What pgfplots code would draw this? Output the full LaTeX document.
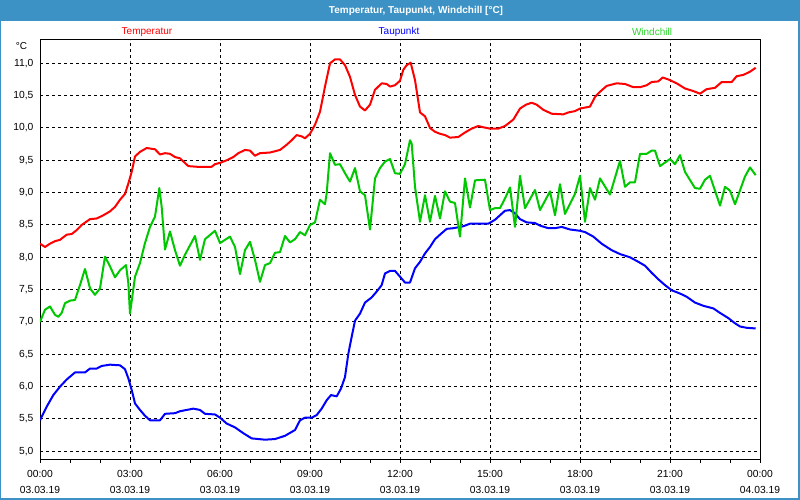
\documentclass[border=0pt]{standalone}
\usepackage{fontspec}
\setmainfont{Liberation Sans}
\usepackage{pgfplots}
\pgfplotsset{compat=1.18}
\definecolor{barblue}{RGB}{60,146,196}
\definecolor{tred}{RGB}{255,0,0}
\definecolor{tblue}{RGB}{0,0,255}
\definecolor{tgreen}{RGB}{0,200,0}
\definecolor{lgreen}{RGB}{40,215,40}
\begin{document}
\begin{tikzpicture}
\fill[barblue] (0pt,0pt) rectangle (800pt,500pt);
\fill[white] (1pt,2pt) rectangle (798pt,479pt);
\node[font=\bfseries\fontsize{10}{12}\selectfont, text=white] at (416pt,489.5pt) {Temperatur, Taupunkt, Windchill [°C]};
\node[font=\fontsize{10}{12}\selectfont, text=tred] at (147pt,468pt) {Temperatur};
\node[font=\fontsize{10}{12}\selectfont, text=tblue] at (399pt,468pt) {Taupunkt};
\node[font=\fontsize{10}{12}\selectfont, text=lgreen] at (652pt,468pt) {Windchill};
\node[font=\fontsize{10}{12}\selectfont] at (21.5pt,454pt) {°C};
\begin{axis}[at={(40pt,40pt)}, anchor=south west, scale only axis,
  width=720pt, height=420pt,
  xmin=0, xmax=24, ymin=4.866, ymax=11.36,
  axis line style={black, line width=1pt},
  grid=major,
  major grid style={black, line width=1pt, dash pattern=on 3pt off 3pt},
  xtick={0,3,6,9,12,15,18,21,24},
  minor xtick={1,2,4,5,7,8,10,11,13,14,16,17,19,20,22,23},
  xticklabels={{00:00\\03.03.19},{03:00\\03.03.19},{06:00\\03.03.19},{09:00\\03.03.19},{12:00\\03.03.19},{15:00\\03.03.19},{18:00\\03.03.19},{21:00\\03.03.19},{00:00\\04.03.19}},
  xticklabel style={align=center, font=\fontsize{10.3}{16}\selectfont, yshift=-4pt},
  ytick={5,5.5,6,6.5,7,7.5,8,8.5,9,9.5,10,10.5,11},
  yticklabel style={font=\fontsize{10.3}{12}\selectfont, /pgf/number format/.cd, use comma, fixed, fixed zerofill, precision=1},
  /pgf/number format/assume math mode=true,
  tick align=outside, tick pos=left,
  major tick length=3pt, minor tick length=3pt,
  every tick/.style={black, line width=1pt},
  ytick style={draw=none},
]
\addplot[tred, line width=2pt, line join=round] coordinates {
(0,8.21)(0.167,8.16)(0.333,8.21)(0.5,8.25)(0.667,8.27)(0.889,8.35)(1.056,8.36)(1.222,8.42)(1.389,8.50)(1.667,8.59)(1.889,8.60)(2.111,8.65)(2.333,8.71)(2.5,8.78)(2.667,8.89)(2.833,8.98)(2.944,9.14)(3.056,9.32)(3.167,9.56)(3.333,9.63)(3.556,9.69)(3.833,9.67)(4.0,9.59)(4.167,9.61)(4.333,9.60)(4.5,9.55)(4.667,9.53)(4.944,9.41)(5.222,9.40)(5.722,9.40)(5.833,9.44)(6.0,9.46)
(6.222,9.50)(6.444,9.55)(6.611,9.61)(6.833,9.66)(7.0,9.65)(7.167,9.57)(7.333,9.61)(7.667,9.62)(8.0,9.66)(8.222,9.74)(8.389,9.81)(8.556,9.89)(8.722,9.87)(8.833,9.84)(9.0,9.91)(9.167,10.05)(9.333,10.25)(9.5,10.64)(9.667,11.0)(9.833,11.06)(10.0,11.06)(10.167,10.97)(10.333,10.79)(10.5,10.51)(10.667,10.33)(10.833,10.27)(11.0,10.36)(11.167,10.59)(11.389,10.69)(11.556,10.68)(11.667,10.64)(11.833,10.66)(12.0,10.73)
(12.111,10.90)(12.222,10.97)(12.356,11.01)(12.5,10.74)(12.667,10.24)(12.833,10.18)(13.0,10.00)(13.167,9.94)(13.333,9.91)(13.5,9.89)(13.667,9.85)(13.944,9.86)(14.167,9.93)(14.389,9.99)(14.611,10.03)(14.778,10.01)(15.0,9.99)(15.278,9.99)(15.5,10.03)(15.778,10.13)(16.0,10.30)(16.2,10.36)(16.389,10.39)(16.556,10.36)(16.778,10.28)(17.056,10.22)(17.444,10.21)(17.611,10.24)(17.833,10.26)(18.0,10.30)
(18.333,10.33)(18.5,10.48)(18.667,10.56)(18.889,10.65)(19.222,10.69)(19.5,10.68)(19.778,10.63)(20.0,10.63)(20.222,10.66)(20.389,10.71)(20.611,10.72)(20.756,10.78)(20.944,10.75)(21.222,10.69)(21.5,10.61)(21.778,10.57)(22.0,10.53)(22.222,10.60)(22.5,10.62)(22.722,10.71)(23.056,10.71)(23.222,10.80)(23.444,10.82)(23.667,10.87)(23.856,10.93)
};
\addplot[tblue, line width=2pt, line join=round] coordinates {
(0,5.48)(0.222,5.69)(0.444,5.87)(0.667,6.00)(0.889,6.11)(1.167,6.22)(1.5,6.22)(1.667,6.28)(1.889,6.28)(2.056,6.32)(2.333,6.34)(2.667,6.33)(2.833,6.27)(2.944,6.13)(3.056,5.95)(3.167,5.74)(3.333,5.64)(3.5,5.55)(3.667,5.48)(4.0,5.48)(4.167,5.58)(4.5,5.59)(4.667,5.62)(4.889,5.64)(5.111,5.66)(5.333,5.64)(5.5,5.58)(5.833,5.57)(6.0,5.52)
(6.222,5.43)(6.5,5.37)(6.778,5.28)(7.056,5.20)(7.5,5.18)(7.833,5.19)(8.167,5.24)(8.5,5.33)(8.667,5.48)(8.833,5.52)(9.056,5.52)(9.222,5.56)(9.389,5.66)(9.556,5.79)(9.7,5.87)(9.889,5.85)(10.033,5.97)(10.167,6.15)(10.278,6.51)(10.389,6.77)(10.5,7.02)(10.667,7.13)(10.833,7.30)(11.056,7.38)(11.222,7.47)(11.389,7.57)(11.5,7.75)(11.667,7.79)(11.833,7.79)(12.0,7.70)
(12.167,7.61)(12.333,7.61)(12.5,7.83)(12.667,7.93)(12.833,8.06)(13.0,8.16)(13.167,8.28)(13.333,8.35)(13.556,8.44)(13.778,8.45)(14.111,8.48)(14.333,8.52)(14.667,8.52)(14.944,8.52)(15.167,8.58)(15.333,8.65)(15.5,8.72)(15.667,8.73)(15.833,8.68)(16.0,8.59)(16.222,8.54)(16.5,8.53)(16.667,8.49)(16.944,8.45)(17.167,8.45)(17.389,8.47)(17.667,8.43)(18.0,8.41)
(18.167,8.39)(18.444,8.32)(18.722,8.21)(19.056,8.11)(19.333,8.05)(19.667,8.00)(19.944,7.93)(20.167,7.87)(20.389,7.76)(20.611,7.66)(20.833,7.57)(21.056,7.49)(21.333,7.44)(21.556,7.39)(21.833,7.30)(22.111,7.25)(22.444,7.21)(22.667,7.14)(22.944,7.06)(23.167,6.98)(23.333,6.93)(23.556,6.91)(23.856,6.90)
};
\addplot[tgreen, line width=2pt, line join=round] coordinates {
(0,7.00)(0.167,7.19)(0.333,7.24)(0.5,7.11)(0.611,7.08)(0.722,7.14)(0.833,7.29)(1.0,7.33)(1.167,7.34)(1.333,7.57)(1.5,7.82)(1.667,7.52)(1.833,7.42)(2.0,7.52)(2.167,8.01)(2.333,7.86)(2.5,7.69)(2.667,7.80)(2.867,7.88)(2.944,7.60)(3.0,7.13)(3.167,7.70)(3.333,7.91)(3.5,8.22)(3.667,8.47)(3.833,8.63)(3.978,9.07)(4.056,8.78)(4.167,8.12)(4.333,8.40)(4.5,8.11)(4.667,7.87)(4.833,8.04)(5.167,8.33)(5.333,7.96)(5.5,8.28)(5.833,8.41)(6.0,8.22)
(6.167,8.27)(6.333,8.32)(6.5,8.16)(6.667,7.74)(6.833,8.11)(7.0,8.24)(7.167,7.96)(7.333,7.62)(7.5,7.88)(7.667,7.91)(7.833,8.07)(8.0,8.08)(8.167,8.33)(8.333,8.23)(8.5,8.28)(8.667,8.39)(8.833,8.34)(9.0,8.50)(9.167,8.54)(9.333,8.89)(9.5,8.82)(9.556,8.99)(9.667,9.61)(9.833,9.43)(10.0,9.44)(10.167,9.30)(10.333,9.17)(10.5,9.38)(10.667,9.02)(10.833,8.96)(11.0,8.43)(11.167,9.22)(11.333,9.38)(11.5,9.48)(11.667,9.52)(11.833,9.30)(12.0,9.29)
(12.167,9.44)(12.333,9.81)(12.389,9.76)(12.5,9.09)(12.667,8.55)(12.833,8.96)(13.0,8.55)(13.167,8.95)(13.333,8.60)(13.5,9.02)(13.667,8.86)(13.833,8.84)(14.0,8.32)(14.167,9.22)(14.333,8.77)(14.5,9.19)(14.833,9.20)(15.0,8.73)(15.167,8.76)(15.333,8.76)(15.5,8.91)(15.667,9.08)(15.833,8.47)(16.0,9.26)(16.167,8.76)(16.5,9.04)(16.667,8.73)(17.0,9.02)(17.167,8.65)(17.333,9.13)(17.5,8.67)(17.833,8.98)(18.0,9.26)
(18.167,8.55)(18.333,9.07)(18.5,8.89)(18.667,9.22)(19.0,8.97)(19.333,9.49)(19.5,9.09)(19.667,9.16)(19.833,9.16)(20.0,9.60)(20.222,9.60)(20.389,9.65)(20.5,9.65)(20.667,9.41)(21.0,9.52)(21.167,9.44)(21.333,9.58)(21.5,9.32)(21.833,9.07)(22.0,9.06)(22.167,9.20)(22.333,9.26)(22.667,8.80)(22.833,9.09)(23.0,9.03)(23.167,8.82)(23.5,9.25)(23.667,9.39)(23.856,9.27)
};
\end{axis}
\end{tikzpicture}
\end{document}
